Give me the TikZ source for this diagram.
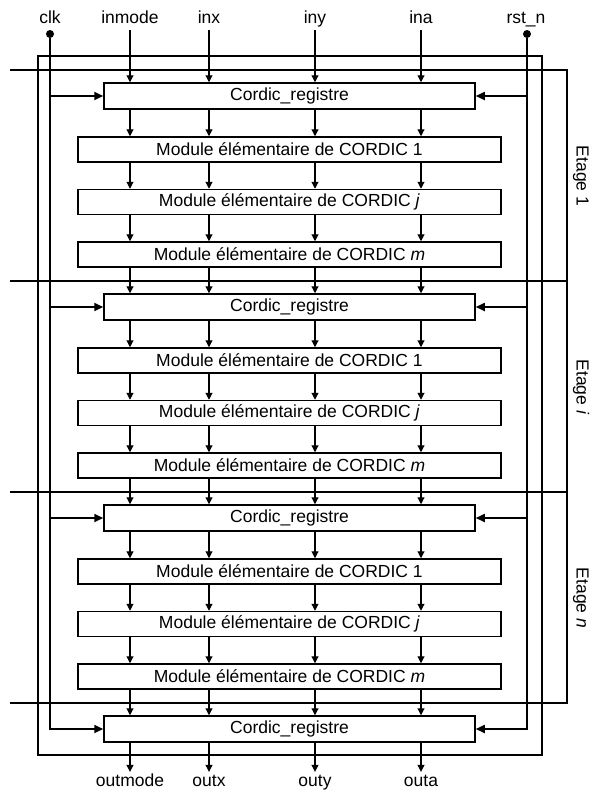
\documentclass[tikz,border=0pt]{standalone}
\usepackage{fontspec}
\setmainfont{Liberation Sans}
\usetikzlibrary{arrows.meta}
\begin{document}
\begin{tikzpicture}[x=1pt,y=-1pt,
  box/.style={draw,line width=1.5pt,inner sep=0pt,font=\fontsize{17.5}{20}\selectfont},
  regbox/.style={box,minimum width=371pt,minimum height=26pt},
  modbox/.style={box,minimum width=423pt,minimum height=25pt},
  sig/.style={line width=1.1pt,-{Triangle[length=7pt,width=7pt]}},
  ctl/.style={line width=1.7pt,-{Triangle[length=9pt,width=8pt]}},
  lbl/.style={font=\fontsize{17.5}{20}\selectfont,inner sep=1pt,text height=13pt,text depth=4pt},
  dot/.style={circle,fill,inner sep=0pt,minimum size=8pt}]
\useasboundingbox (0,0) rectangle (590,790);

\draw[line width=1.4pt] (38,56) rectangle (542,755);
\draw[line width=1.4pt] (10,70) -- (567,70) -- (567,703) -- (10,703);
\draw[line width=1.4pt] (10,281) -- (567,281);
\draw[line width=1.4pt] (10,492) -- (567,492);

\coordinate (col1) at (130,0);
\coordinate (col2) at (209,0);
\coordinate (col3) at (315,0);
\coordinate (col4) at (421,0);

\node[lbl,anchor=base] (clk) at (50,23) {clk};
\node[lbl,anchor=base] (inmode) at (130,23) {inmode};
\node[lbl,anchor=base] (inx) at (209,23) {inx};
\node[lbl,anchor=base] (iny) at (315,23) {iny};
\node[lbl,anchor=base] (ina) at (421,23) {ina};
\node[lbl,anchor=base] (rstn) at (526,23) {rst\_n};
\node[dot] (clkdot) at (50,34) {};
\node[dot] (rstdot) at (527,34) {};

\foreach \k/\s in {0/70,1/281,2/492,3/703}
  \node[regbox] (reg\k) at (289.5,\s+26) {Cordic\_registre};

\foreach \k/\s/\e in {0/70/1,1/281/\textit{i},2/492/\textit{n}} {
  \node[modbox] (mA\k) at (289.5,\s+79.5) {Module élémentaire de CORDIC 1};
  \node[modbox] (mB\k) at (289.5,\s+132) {Module élémentaire de CORDIC \textit{j}};
  \node[modbox] (mC\k) at (289.5,\s+184.5) {Module élémentaire de CORDIC \textit{m}};
  \node[lbl,rotate=-90] (etage\k) at (581,\s+106) {Etage \e};
}

\foreach \k/\n in {0/1,1/2,2/3}
  \foreach \c in {col1,col2,col3,col4} {
    \draw[sig] (reg\k.south -| \c) -- (mA\k.north -| \c);
    \draw[sig] (mA\k.south -| \c) -- (mB\k.north -| \c);
    \draw[sig] (mB\k.south -| \c) -- (mC\k.north -| \c);
    \draw[sig] (mC\k.south -| \c) -- (reg\n.north -| \c);
  }

\foreach \i in {inmode,inx,iny,ina}
  \draw[sig,shorten <=2pt] (\i.south) -- (\i.south |- reg0.north);

\foreach \k in {0,1,2} {
  \draw[ctl] (clkdot |- reg\k.west) -- (reg\k.west);
  \draw[ctl] (rstdot |- reg\k.east) -- (reg\k.east);
}
\draw[ctl] (clkdot) |- (reg3.west);
\draw[ctl] (rstdot) |- (reg3.east);

\node[lbl,anchor=base] (outmode) at (130,786) {outmode};
\node[lbl,anchor=base] (outx) at (209,786) {outx};
\node[lbl,anchor=base] (outy) at (315,786) {outy};
\node[lbl,anchor=base] (outa) at (421,786) {outa};
\foreach \o in {outmode,outx,outy,outa}
  \draw[sig] (reg3.south -| \o) -- (\o.north);
\end{tikzpicture}
\end{document}
